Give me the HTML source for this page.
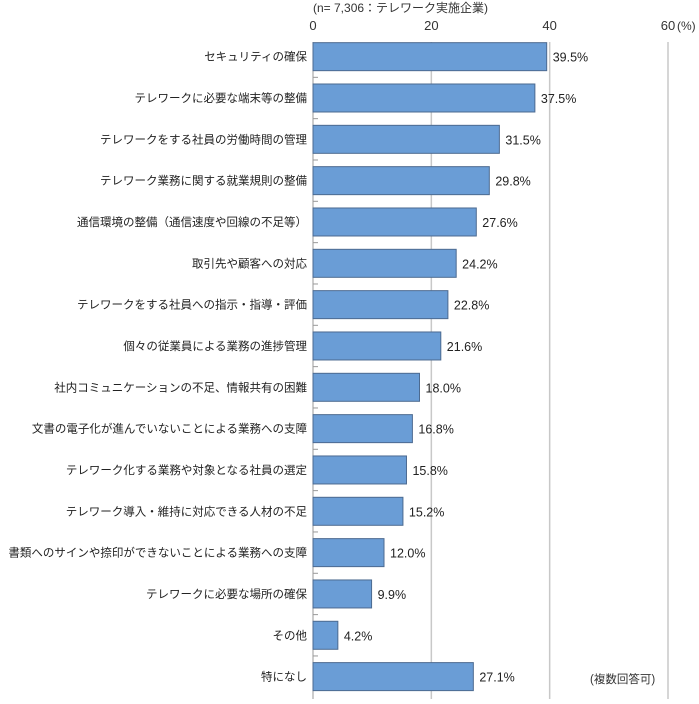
<!DOCTYPE html>
<html><head><meta charset="utf-8"><style>
body{margin:0;background:#fff;}
svg{font-family:"Liberation Sans","Noto Sans CJK JP",sans-serif;}
</style></head><body>
<svg id="chart" width="699" height="699" viewBox="0 0 699 699" xmlns="http://www.w3.org/2000/svg"></svg>
<script>
const categories=["セキュリティの確保","テレワークに必要な端末等の整備","テレワークをする社員の労働時間の管理","テレワーク業務に関する就業規則の整備","通信環境の整備（通信速度や回線の不足等）","取引先や顧客への対応","テレワークをする社員への指示・指導・評価","個々の従業員による業務の進捗管理","社内コミュニケーションの不足、情報共有の困難","文書の電子化が進んでいないことによる業務への支障","テレワーク化する業務や対象となる社員の選定","テレワーク導入・維持に対応できる人材の不足","書類へのサインや捺印ができないことによる業務への支障","テレワークに必要な場所の確保","その他","特になし"];
const values=[39.5,37.5,31.5,29.8,27.6,24.2,22.8,21.6,18.0,16.8,15.8,15.2,12.0,9.9,4.2,27.1];
const ticks=[0,20,40,60];
const svg=document.getElementById('chart');
const NS="http://www.w3.org/2000/svg";
const x0=313,x1=668,xmax=60,plotTop=36,band=41.33,barH=28;
const xs=v=>x0+(x1-x0)*v/xmax;
const yc=i=>plotTop+band*(i+0.5);
function mk(t,a){const e=document.createElementNS(NS,t);for(const k in a)e.setAttribute(k,a[k]);svg.appendChild(e);return e;}
ticks.forEach(t=>{
  if(t>0){const g=mk('line',{x1:xs(t),x2:xs(t),y1:42,y2:699,stroke:'#c8c8c8','stroke-width':1.5});
  
  }
  const l=mk('text',{x:xs(t),y:30,'text-anchor':'middle','font-size':13,fill:'#333'});
  
  
  l.textContent=String(t);
});
const unit=mk('text',{x:677,y:30,'font-size':12,fill:'#333'});


unit.textContent='(%)';
const note=mk('text',{x:313,y:12,'font-size':12,fill:'#333'});


note.textContent='(n= 7,306：テレワーク実施企業)';
const ax=mk('line',{x1:x0,x2:x0,y1:42,y2:699,stroke:'#999','stroke-width':1});


categories.forEach((c,i)=>{
  const y=yc(i);
  if(i<categories.length-1){const tk=mk('line',{x1:x0,x2:x0+5,y1:y+band/2,y2:y+band/2,stroke:'#999'});
  
  }
  const r=mk('rect',{x:x0,y:y-barH/2,width:xs(values[i])-x0,height:barH,fill:'#6a9dd6',stroke:'#4c6a90','stroke-width':1});
  
  
  const lb=mk('text',{x:307,y:y+4,'text-anchor':'end','font-size':11.5,fill:'#222'});
  
  
  lb.textContent=c;
  const v=mk('text',{x:xs(values[i])+6,y:y+5,'font-size':12.5,fill:'#222'});
  
  
  v.textContent=values[i].toFixed(1)+'%';
});
const fn=mk('text',{x:590,y:683,'font-size':11.5,fill:'#333'});


fn.textContent='(複数回答可)';
</script>
</body></html>
